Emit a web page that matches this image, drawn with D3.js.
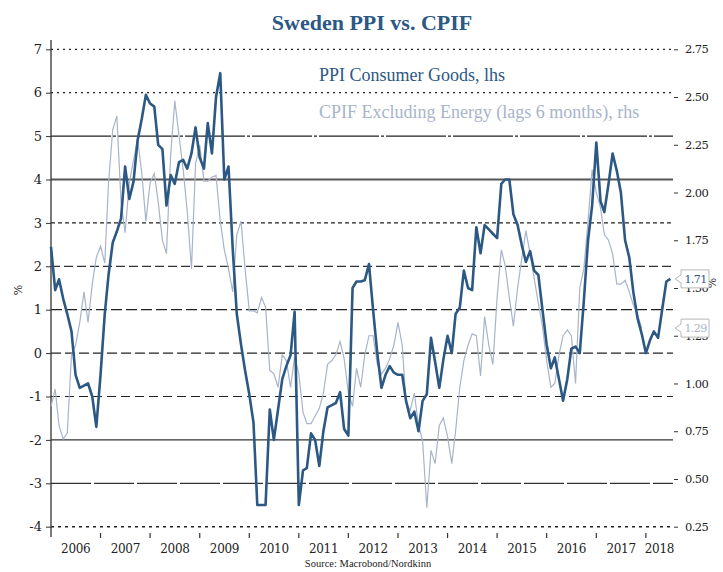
<!DOCTYPE html>
<html>
<head>
<meta charset="utf-8">
<script src="https://cdn.jsdelivr.net/npm/d3@7"></script>
<style>
  body { margin: 0; background: #fff; }
  svg { display: block; }
</style>
</head>
<body>
<div id="chart"></div>
<script>
// monthly series, first value = Jan 2006
const ppiStart = new Date(2006, 0, 1);
const ppi = [
  2.45, 1.45, 1.7, 1.25, 0.9, 0.5, -0.5, -0.8, -0.75, -0.7, -1.0, -1.7,
  -0.5, 0.9, 1.8, 2.55, 2.8, 3.1, 4.3, 3.55, 3.95, 4.9, 5.4, 5.95,
  5.75, 5.68, 4.8, 4.7, 3.4, 4.1, 3.9, 4.4, 4.45, 4.25, 4.6, 5.2,
  4.5, 4.25, 5.3, 4.6, 5.9, 6.45, 4.0, 4.3, 2.4, 0.9, 0.2, -0.4,
  -0.95, -1.6, -3.5, -3.5, -3.5, -1.3, -2.0, -1.3, -0.6, -0.3, -0.05, 0.95,
  -3.5, -2.7, -2.65, -1.85, -2.0, -2.6, -1.8, -1.25, -1.2, -1.15, -0.9, -1.75,
  -1.9, 1.5, 1.65, 1.65, 1.68, 2.05, 1.0, 0.0, -0.8, -0.5, -0.3, -0.45,
  -0.5, -0.5, -1.1, -1.5, -1.35, -1.8, -1.1, -0.95, 0.35, -0.2, -0.8, -0.15,
  0.4, 0.0, 0.9, 1.05, 1.9, 1.5, 1.45, 2.9, 2.3, 2.95, 2.85, 2.75,
  2.65, 3.9, 4.0, 4.0, 3.2, 2.95, 2.5, 2.1, 2.35, 1.9, 1.8, 1.0,
  0.2, -0.35, -0.1, -0.6, -1.1, -0.6, 0.1, 0.15, 0.0, 1.2, 2.6, 3.4,
  4.85, 3.5, 3.25, 3.9, 4.6, 4.2, 3.7, 2.6, 2.2, 1.4, 0.8, 0.45,
  0.0, 0.3, 0.5, 0.35, 1.0, 1.65, 1.71
];
const cpifStart = new Date(2006, 0, 1);
const cpif = [
  0.88, 0.97, 0.78, 0.71, 0.74, 1.15, 1.2, 1.32, 1.48, 1.32, 1.52, 1.66,
  1.72, 1.63, 2.05, 2.33, 2.4, 1.95, 1.79, 2.05, 2.17, 2.28, 2.1, 1.85,
  2.05, 2.1, 1.95, 1.75, 1.68, 2.2, 2.48, 2.3, 2.12, 1.9, 1.6, 2.15,
  2.25, 2.06, 2.06, 2.08, 2.09, 1.85, 1.7, 1.6, 1.48, 1.78, 1.85, 1.6,
  1.38, 1.38, 1.37, 1.45, 1.4, 1.07, 1.05, 0.98, 1.15, 1.12, 0.98, 1.14,
  1.05, 0.85, 0.79, 0.79, 0.83, 0.87, 0.95, 1.1, 1.12, 1.15, 1.22, 1.13,
  0.95, 0.88, 1.08, 0.98, 1.15, 1.25, 1.25, 1.1, 1.05, 1.08, 1.13, 1.2,
  1.32, 1.2, 0.9, 0.86, 0.95, 0.78, 0.7, 0.35, 0.65, 0.58, 0.78, 0.82,
  0.72, 0.58, 0.75, 0.98, 1.12, 1.2, 1.26, 1.25, 1.04, 1.35, 1.2, 1.1,
  1.45, 1.7, 1.62, 1.45, 1.3, 1.5, 1.65, 1.8, 1.68, 1.55, 1.42, 1.3,
  1.12, 0.98, 1.0, 1.15, 1.25, 1.28, 1.25, 1.0, 1.5, 1.6, 1.85, 2.12,
  2.0, 1.92, 1.78, 1.75, 1.68, 1.52, 1.52, 1.54, 1.48, 1.41, 1.36, 1.29
];
const leftTicks = [7, 6, 5, 4, 3, 2, 1, 0, -1, -2, -3, -4];
const rightTicks = [2.75, 2.5, 2.25, 2.0, 1.75, 1.5, 1.25, 1.0, 0.75, 0.5, 0.25];
const years = d3.range(2006, 2019);
const titleText = "Sweden PPI vs. CPIF";
const legendText = ["PPI Consumer Goods, lhs", "CPIF Excluding Energy (lags 6 months), rhs"];
const sourceText = "Source: Macrobond/Nordkinn";

const W = 723, H = 572;
const m = { left: 51, right: 673, top: 49.3, bottom: 526.7 };
const darkBlue = "#2c5884", lightBlue = "#a8b4c9";
const serif = "'DejaVu Serif', serif";
const textSerif = "'Liberation Serif', serif";

const svg = d3.select("#chart").append("svg").attr("width", W).attr("height", H);

const xEnd = new Date(2018, 6, 20);
const x = d3.scaleTime().domain([ppiStart, xEnd]).range([m.left, m.right]);
const yL = d3.scaleLinear().domain([-4, 7]).range([m.bottom, m.top]);
const yR = d3.scaleLinear().domain([0.25, 2.75]).range([m.bottom, m.top]);

// gridline looks, by left value
const gridLook = {
  "7": { dash: "2,4", color: "#222", w: 1.3 },
  "6": { dash: "2,4", color: "#222", w: 1.3 },
  "5": { dash: "60,2,3,2", color: "#222", w: 1.1 },
  "4": { dash: null, color: "#555", w: 1.8 },
  "3": { dash: "4,3", color: "#222", w: 1.3 },
  "2": { dash: "9,4", color: "#333", w: 1.2 },
  "1": { dash: "11,4", color: "#222", w: 1.2 },
  "0": { dash: "10,4", color: "#222", w: 1.2 },
  "-1": { dash: "9,5", color: "#222", w: 1.2 },
  "-2": { dash: null, color: "#333", w: 1.2 },
  "-3": { dash: "40,3", color: "#333", w: 1.2 },
  "-4": { dash: "3,4", color: "#222", w: 1.4 }
};

svg.append("g").selectAll("line").data(leftTicks).enter().append("line")
  .attr("x1", m.left).attr("x2", m.right)
  .attr("y1", d => yL(d)).attr("y2", d => yL(d))
  .attr("stroke", d => gridLook[d].color)
  .attr("stroke-width", d => gridLook[d].w)
  .attr("stroke-dasharray", d => gridLook[d].dash);

// left axis
const axL = svg.append("g").attr("transform", `translate(${m.left},0)`)
  .call(d3.axisLeft(yL).tickValues(leftTicks).tickSize(5).tickPadding(4).tickFormat(d => String(d)));
axL.select(".domain").remove();
axL.selectAll("line").attr("stroke", "#333");
axL.selectAll("text").attr("font-family", serif).attr("font-size", 13).attr("fill", "#222");
svg.append("line").attr("x1", m.left).attr("x2", m.left).attr("y1", 40).attr("y2", 537)
  .attr("stroke", "#333").attr("stroke-width", 1.3);

// right axis
const axR = svg.append("g").attr("transform", `translate(${m.right},0)`)
  .call(d3.axisRight(yR).tickValues(rightTicks).tickSize(4).tickPadding(8).tickFormat(d3.format(".2f")));
axR.select(".domain").remove();
axR.selectAll("line").attr("stroke", "#333").attr("transform", "translate(1,0)");
axR.selectAll("text").attr("font-family", serif).attr("font-size", 11.5).attr("fill", "#222")
  .attr("letter-spacing", -0.6);

// x axis: ticks at year starts, labels centred in visible part of the year
const yearTicks = years.slice(1).map(yr => new Date(yr, 0, 1));
svg.append("g").selectAll("line").data(yearTicks).enter().append("line")
  .attr("x1", d => x(d)).attr("x2", d => x(d)).attr("y1", 533).attr("y2", 538)
  .attr("stroke", "#333").attr("stroke-width", 1.2);
svg.append("g").selectAll("text").data(years).enter().append("text")
  .attr("x", yr => {
    const a = Math.max(x(new Date(yr, 0, 1)), m.left);
    const b = Math.min(x(new Date(yr + 1, 0, 1)), m.right);
    return (a + b) / 2;
  })
  .attr("y", 553).attr("text-anchor", "middle")
  .attr("font-family", serif).attr("font-size", 12).attr("fill", "#222")
  .attr("letter-spacing", -0.3)
  .text(d => d);

// series
const cpifData = cpif.map((v, i) => ({ date: d3.timeMonth.offset(cpifStart, i), v }));
const ppiData = ppi.map((v, i) => ({ date: d3.timeMonth.offset(ppiStart, i), v }));

svg.append("path").datum(cpifData)
  .attr("fill", "none").attr("stroke", lightBlue).attr("stroke-width", 1.2)
  .attr("d", d3.line().x(d => x(d.date)).y(d => yR(d.v)));
svg.append("path").datum(ppiData)
  .attr("fill", "none").attr("stroke", darkBlue).attr("stroke-width", 2.6)
  .attr("stroke-linejoin", "round")
  .attr("d", d3.line().x(d => x(d.date)).y(d => yL(d.v)));

// title, legend, source
svg.append("text").attr("x", 372).attr("y", 30).attr("text-anchor", "middle")
  .attr("font-family", textSerif).attr("font-weight", "bold").attr("font-size", 22)
  .attr("fill", darkBlue).text(titleText);
svg.append("text").attr("x", 319).attr("y", 81)
  .attr("font-family", textSerif).attr("font-size", 18).attr("fill", darkBlue)
  .text(legendText[0]);
svg.append("text").attr("x", 319).attr("y", 118)
  .attr("font-family", textSerif).attr("font-size", 18).attr("fill", lightBlue)
  .text(legendText[1]);
svg.append("text").attr("x", 368).attr("y", 567).attr("text-anchor", "middle")
  .attr("font-family", textSerif).attr("font-size", 10.5).attr("fill", "#222")
  .text(sourceText);

// % labels
svg.append("text").attr("transform", "translate(22,290) rotate(-90)").attr("text-anchor", "middle")
  .attr("font-family", serif).attr("font-size", 11).attr("fill", "#222").text("%");
svg.append("text").attr("transform", "translate(716,283) rotate(-90)").attr("text-anchor", "middle")
  .attr("font-family", serif).attr("font-size", 11).attr("fill", "#222").text("%");

// last value callouts (drawn over the right tick labels, as in the original)
const callouts = [
  { y: yL(ppi[ppi.length - 1]), label: d3.format(".2f")(ppi[ppi.length - 1]), color: darkBlue },
  { y: yR(cpif[cpif.length - 1]), label: d3.format(".2f")(cpif[cpif.length - 1]), color: lightBlue }
];
const co = svg.append("g").selectAll("g").data(callouts).enter().append("g")
  .attr("transform", d => `translate(${m.right + 2},${d.y})`);
co.append("path").attr("d", "M0,0 L6,-4 L6,-9 L34,-9 L34,9 L6,9 L6,4 Z")
  .attr("fill", "#fff").attr("stroke", "#b8b8b8").attr("stroke-width", 1);
co.append("text").attr("x", 20.5).attr("y", 4).attr("text-anchor", "middle")
  .attr("font-family", serif).attr("font-size", 11).attr("letter-spacing", -0.6)
  .attr("fill", d => d.color).text(d => d.label);
</script>
</body>
</html>
